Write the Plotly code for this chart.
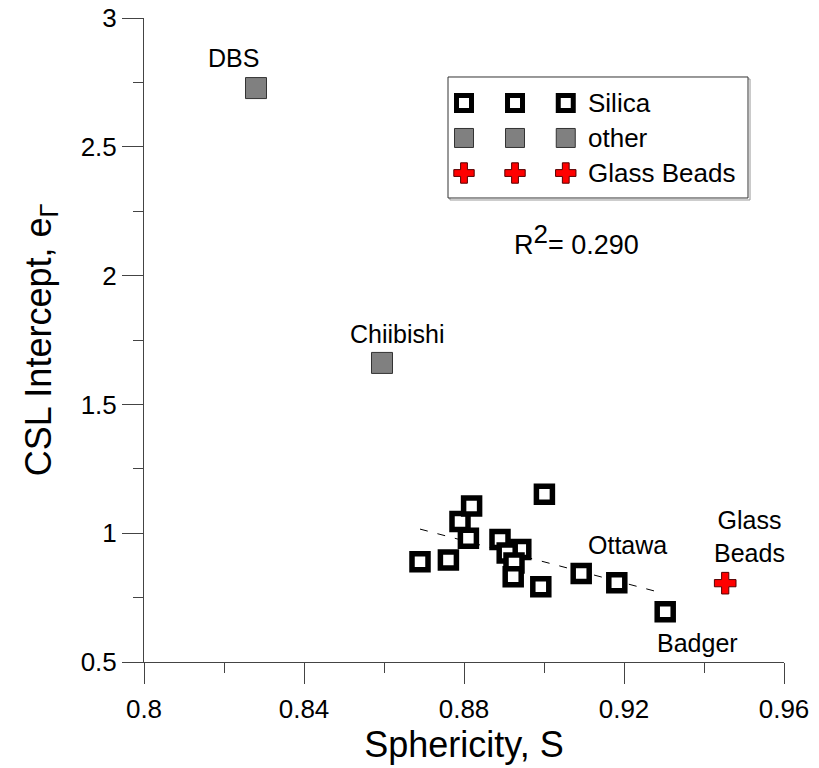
import plotly.graph_objects as go

# ---- data ----
silica_x = [0.8690, 0.8761, 0.8790, 0.8819, 0.8811, 0.8890, 0.8942, 0.9001,
            0.8908, 0.8925, 0.8923, 0.8992, 0.9093, 0.9182, 0.9303]
silica_y = [0.889, 0.896, 1.045, 1.106, 0.980, 0.976, 0.937, 1.151,
            0.923, 0.884, 0.831, 0.792, 0.844, 0.808, 0.695]
other_x = [0.8280, 0.8595]
other_y = [2.728, 1.661]
glass_x = [0.9453]
glass_y = [0.806]
fit_x = [0.8690, 0.9285]
fit_y = [1.016, 0.772]

x_ticks = [0.80, 0.84, 0.88, 0.92, 0.96]
x_tick_text = ["0.8", "0.84", "0.88", "0.92", "0.96"]
y_ticks = [0.5, 1.0, 1.5, 2.0, 2.5, 3.0]
y_tick_text = ["0.5", "1", "1.5", "2", "2.5", "3"]

legend_labels = ["Silica", "other", "Glass Beads"]

point_labels = ["DBS", "Chiibishi", "Ottawa", "Badger", "Glass<br>Beads"]
label_x = [0.82225, 0.86325, 0.92075, 0.93825, 0.95125]
label_y = [2.845, 1.772, 0.955, 0.574, 0.987]

r2_text = "R<sup><span style=\"font-size:26px\">2</span></sup>= 0.290"

FONT = "Liberation Sans, Arial, sans-serif"
AX = "#444444"

silica_marker = dict(symbol="square", size=16, color="white",
                     line=dict(color="black", width=5.5))
other_marker = dict(symbol="square", size=21, color="#808080",
                    line=dict(color="#333333", width=1))
glass_marker = dict(symbol="cross", size=18, color="#ff0000",
                    line=dict(color="#550000", width=1))

fig = go.Figure()

fig.add_trace(go.Scatter(x=fit_x, y=fit_y, mode="lines",
                         line=dict(color="black", width=1, dash="8px,10px"),
                         hoverinfo="skip", showlegend=False))
fig.add_trace(go.Scatter(x=silica_x, y=silica_y, mode="markers",
                         marker=silica_marker, name="Silica", showlegend=False))
fig.add_trace(go.Scatter(x=other_x, y=other_y, mode="markers",
                         marker=other_marker, name="other", showlegend=False))
fig.add_trace(go.Scatter(x=glass_x, y=glass_y, mode="markers",
                         marker=glass_marker, name="Glass Beads", showlegend=False))

# ---- custom legend (three repeated symbols per row) on overlay axes ----
leg_sym_x = [0.500, 0.5797, 0.659]
leg_row_y = [0.868, 0.8137, 0.7593]
leg_text_x = 0.6906
leg_markers = [dict(silica_marker, size=15, line=dict(color="black", width=5)),
               dict(other_marker, size=19),
               dict(glass_marker, size=17)]
for lab, yy, mk in zip(legend_labels, leg_row_y, leg_markers):
    fig.add_trace(go.Scatter(x=leg_sym_x, y=[yy] * 3, mode="markers",
                             marker=mk, xaxis="x2", yaxis="y2",
                             hoverinfo="skip", showlegend=False))

annotations = []
for t, xx, yy in zip(point_labels, label_x, label_y):
    annotations.append(dict(x=xx, y=yy, xref="x", yref="y", text=t,
                            showarrow=False, xanchor="center", yanchor="middle",
                            font=dict(family=FONT, size=25, color="black")))
for lab, yy in zip(legend_labels, leg_row_y):
    annotations.append(dict(x=leg_text_x, y=yy, xref="paper", yref="paper",
                            text=lab, showarrow=False, xanchor="left",
                            yanchor="middle",
                            font=dict(family=FONT, size=26, color="black")))
annotations.append(dict(x=0.575, y=0.6553, xref="paper", yref="paper",
                        text=r2_text, showarrow=False, xanchor="left",
                        yanchor="middle",
                        font=dict(family=FONT, size=27, color="black")))

shapes = [
    dict(type="rect", xref="paper", yref="paper", x0=0.478, x1=0.9469,
         y0=0.7174, y1=0.9053, line=dict(color="#999999", width=1),
         fillcolor="rgba(0,0,0,0)", layer="below"),
    dict(type="rect", xref="paper", yref="paper", x0=0.475, x1=0.94375,
         y0=0.7205, y1=0.9084, line=dict(color="#333333", width=1),
         fillcolor="white", layer="below"),
]

fig.update_layout(
    width=819, height=768,
    margin=dict(l=144, r=35, t=18, b=106),
    paper_bgcolor="white", plot_bgcolor="white",
    font=dict(family=FONT, color="black"),
    showlegend=False,
    annotations=annotations,
    shapes=shapes,
    xaxis=dict(range=[0.8, 0.96], tickvals=x_ticks, ticktext=x_tick_text,
               showline=True, linecolor=AX, linewidth=1, automargin=False,
               ticks="outside", ticklen=21, tickcolor=AX, tickwidth=1,
               minor=dict(ticks="outside", ticklen=10, dtick=0.02,
                          tickcolor=AX, tickwidth=1, showgrid=False),
               showgrid=False, zeroline=False, ticklabelstandoff=3,
               tickfont=dict(family=FONT, size=26, color="black"),
               title=dict(text="Sphericity, S", standoff=4,
                          font=dict(family=FONT, size=36, color="black"))),
    yaxis=dict(range=[0.5, 3.0], tickvals=y_ticks, ticktext=y_tick_text,
               showline=True, linecolor=AX, linewidth=1, automargin=False,
               ticks="outside", ticklen=21, tickcolor=AX, tickwidth=1,
               minor=dict(ticks="outside", ticklen=10, dtick=0.25,
                          tickcolor=AX, tickwidth=1, showgrid=False),
               showgrid=False, zeroline=False,
               tickfont=dict(family=FONT, size=26, color="black"),
               title=dict(text="CSL Intercept, e<sub>Γ</sub>", standoff=18,
                          font=dict(family=FONT, size=36, color="black"))),
    xaxis2=dict(range=[0, 1], overlaying="x", anchor="y2", visible=False,
                fixedrange=True),
    yaxis2=dict(range=[0, 1], overlaying="y", anchor="x2", visible=False,
                fixedrange=True),
)

fig.write_html("out.html")
